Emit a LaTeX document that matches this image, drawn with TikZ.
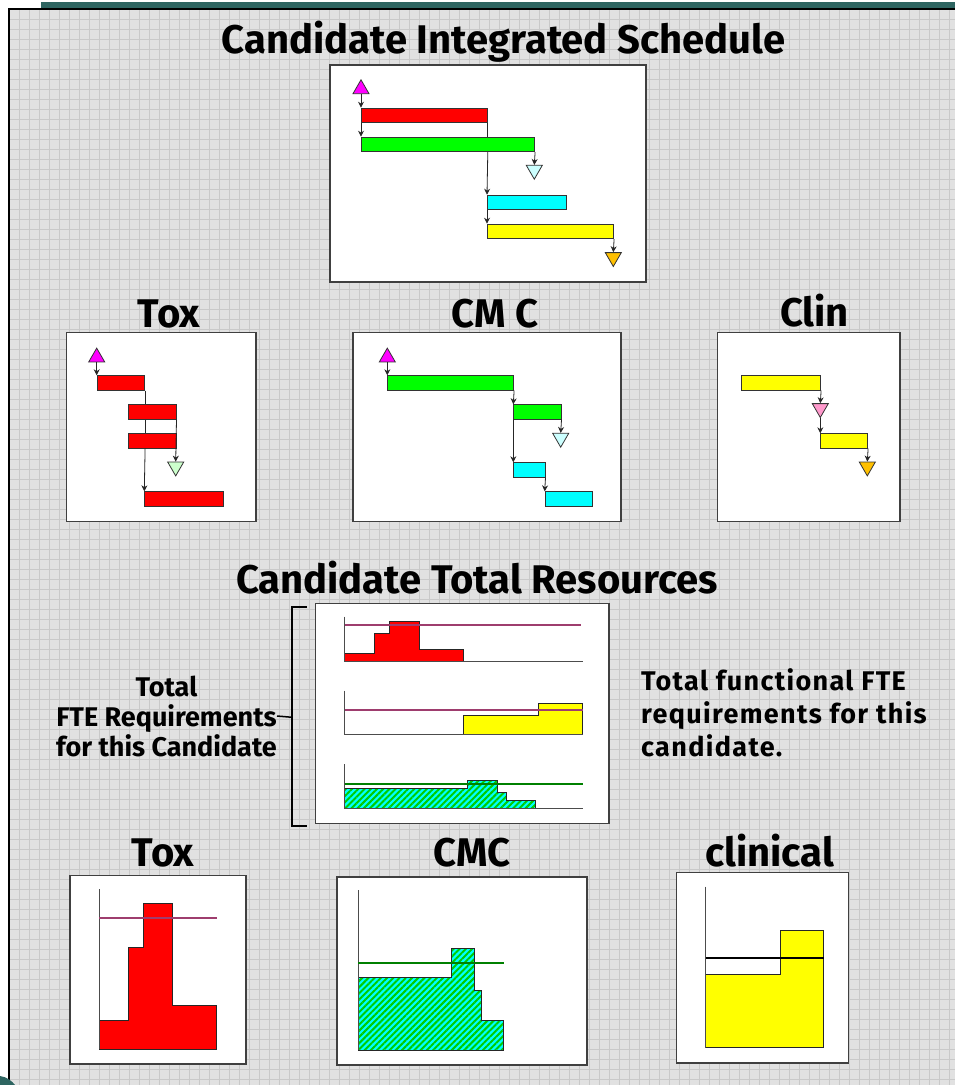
\documentclass[tikz,border=0pt]{standalone}
\usepackage{fontspec}
\setmainfont{Fira Sans}
\usetikzlibrary{shapes.geometric,arrows.meta,patterns.meta}
\definecolor{gridbg}{HTML}{E1E1E1}
\definecolor{gridln}{HTML}{C9C9C9}
\definecolor{teal}{HTML}{2E6561}
\definecolor{limitpurple}{HTML}{9E3D6E}
\definecolor{limitgreen}{HTML}{008000}
\definecolor{hatchgreen}{HTML}{00CC00}
\definecolor{barred}{HTML}{FF0000}
\definecolor{bargreen}{HTML}{00FF00}
\definecolor{barcyan}{HTML}{00FFFF}
\definecolor{baryellow}{HTML}{FFFF00}
\definecolor{startmile}{HTML}{FF00FF}
\definecolor{lightcyan}{HTML}{CCFFFF}
\definecolor{lightgreen}{HTML}{CCFFCC}
\definecolor{pinkmile}{HTML}{FF99CC}
\definecolor{orangemile}{HTML}{FFC000}
\begin{document}
\begin{tikzpicture}[x=1pt,y=-1pt,every node/.append style={inner sep=0},
    panel/.style={draw=black!75,fill=white,line width=1.5pt,anchor=north west},
    gbar/.style={draw=black!80,line width=0.8pt,minimum height=14.6pt,anchor=north west},
    tri/.style={draw=black!80,line width=0.8pt,regular polygon,regular polygon sides=3,minimum size=18.5pt,anchor=corner 1},
    tridown/.style={tri,shape border rotate=180},
    link/.style={draw=black!85,line width=0.8pt,-{Stealth[length=6pt,width=6pt]}},
    plain/.style={draw=black!85,line width=0.8pt},
    heading/.style={font=\fontsize{40}{44}\selectfont\bfseries,anchor=base},
    note/.style={font=\fontsize{27}{30}\selectfont\bfseries},
    axisline/.style={draw=black!70,line width=1pt},
    load/.style={draw=black!85,line width=1pt},
    hatch/.style={preaction={fill=barcyan},pattern={Lines[angle=45,distance=4.4pt,line width=2pt]},pattern color=hatchgreen},
    limit/.style={line width=2pt}]
  \useasboundingbox (0,0) rectangle (955,1085);
  \fill[white] (0,0) rectangle (955,1085);
  \fill[gridbg] (9,9) rectangle (955,1085);
  \foreach \i in {19,29,...,955} \draw[gridln,line width=0.8pt] (\i,9) -- (\i,1085);
  \foreach \j in {19,29,...,1085} \draw[gridln,line width=0.8pt] (9,\j) -- (955,\j);
  \fill[teal] (41,2) rectangle (955,8);
  \draw[line width=2pt] (9,1085) -- (9,9) -- (955,9);
  \fill[teal] (0,1076) .. controls (7,1077) and (12,1081) .. (15,1085) -- (0,1085) -- cycle;

  \node[heading] (SchedTitle) at (503.5,53) {Candidate Integrated Schedule};
  \node[panel,minimum width=316pt,minimum height=217pt] (SchedPanel) at (329,64) {};
  \node[tri,fill=startmile] (SchedStart) at (361,79) {};
  \node[gbar,fill=barred,minimum width=126pt] (SchedRed) at (361,107.7) {};
  \node[gbar,fill=bargreen,minimum width=173.3pt] (SchedGreen) at (361,136.7) {};
  \node[tridown,fill=lightcyan] (SchedMile) at (534.3,180) {};
  \node[gbar,fill=barcyan,minimum width=79.3pt] (SchedCyan) at (487,194.7) {};
  \node[gbar,fill=baryellow,minimum width=126.3pt] (SchedYellow) at (487,223.7) {};
  \node[tridown,fill=orangemile] (SchedEnd) at (613.3,267.3) {};
  \draw[link] (SchedStart.side 2) -- (SchedRed.north west);
  \draw[link] (SchedRed.south west) -- (SchedGreen.north west);
  \draw[plain] (SchedRed.south east) -- (SchedRed.south east |- SchedGreen.north);
  \draw[link] (SchedRed.south east |- SchedGreen.south) -- (SchedCyan.north west);
  \draw[link] (SchedGreen.south east) -- (SchedMile.side 2);
  \draw[link] (SchedCyan.south west) -- (SchedYellow.north west);
  \draw[link] (SchedYellow.south east) -- (SchedEnd.side 2);

  \node[heading] (ToxTitle) at (169,327) {Tox};
  \node[panel,minimum width=189.3pt,minimum height=189pt] (ToxPanel) at (65.7,331.7) {};
  \node[tri,fill=startmile] (ToxStart) at (96.7,347.3) {};
  \node[gbar,fill=barred,minimum width=47.6pt] (ToxBarA) at (96.7,375.3) {};
  \node[gbar,fill=barred,minimum width=47.4pt] (ToxBarB) at (128.3,404.3) {};
  \node[gbar,fill=barred,minimum width=47.4pt] (ToxBarC) at (128.3,433.3) {};
  \node[tridown,fill=lightgreen] (ToxMile) at (175.7,476.7) {};
  \node[gbar,fill=barred,minimum width=79pt] (ToxBarD) at (144.3,491.3) {};
  \draw[link] (ToxStart.side 2) -- (ToxBarA.north west);
  \draw[plain] (ToxBarA.south east) -- (ToxBarA.south east |- ToxBarB.north);
  \draw[plain] (ToxBarA.south east |- ToxBarB.south) -- (ToxBarA.south east |- ToxBarC.north);
  \draw[link] (ToxBarA.south east |- ToxBarC.south) -- (ToxBarD.north west);
  \draw[link] (ToxBarB.south east) -- (ToxMile.side 2);

  \node[heading] (CmcTitle) at (495,327) {CM C};
  \node[panel,minimum width=267.7pt,minimum height=189pt] (CmcPanel) at (352.3,331.7) {};
  \node[tri,fill=startmile] (CmcStart) at (387.3,347.3) {};
  \node[gbar,fill=bargreen,minimum width=126pt] (CmcBarA) at (387.3,375.3) {};
  \node[gbar,fill=bargreen,minimum width=47.4pt] (CmcBarB) at (513.3,404.3) {};
  \node[tridown,fill=lightcyan] (CmcMile) at (560.7,448) {};
  \node[gbar,fill=barcyan,minimum width=31.4pt] (CmcBarC) at (513.3,462.3) {};
  \node[gbar,fill=barcyan,minimum width=47.6pt] (CmcBarD) at (544.7,491.3) {};
  \draw[link] (CmcStart.side 2) -- (CmcBarA.north west);
  \draw[link] (CmcBarA.south east) -- (CmcBarB.north west);
  \draw[link] (CmcBarB.south east) -- (CmcMile.side 2);
  \draw[link] (CmcBarB.south west) -- (CmcBarC.north west);
  \draw[link] (CmcBarC.south east) -- (CmcBarD.north west);

  \node[heading] (ClinTitle) at (814.5,326) {Clin};
  \node[panel,minimum width=182.6pt,minimum height=189pt] (ClinPanel) at (716.7,331.7) {};
  \node[gbar,fill=baryellow,minimum width=79.3pt] (ClinBarA) at (741,375.3) {};
  \node[tridown,fill=pinkmile] (ClinMile) at (820.3,418.3) {};
  \node[gbar,fill=baryellow,minimum width=47pt] (ClinBarB) at (820.3,433.3) {};
  \node[tridown,fill=orangemile] (ClinEnd) at (867.3,476.7) {};
  \draw[link] (ClinBarA.south east) -- (ClinMile.side 2);
  \draw[link] (ClinMile.corner 1) -- (ClinBarB.north west);
  \draw[link] (ClinBarB.south east) -- (ClinEnd.side 2);

  \node[heading] (TotalTitle) at (477,593) {Candidate Total Resources};
  \node[panel,minimum width=293.6pt,minimum height=220pt] (TotalPanel) at (314.7,602.7) {};
  \draw[load,fill=barred] (344.7,661.3) -- (344.7,653.3) -- (374.3,653.3) -- (374.3,633.3) -- (389.3,633.3) -- (389.3,621.3) -- (419.3,621.3) -- (419.3,649.3) -- (463.7,649.3) -- (463.7,661.3) -- cycle;
  \draw[axisline] (344.7,616.7) -- (344.7,661.3) -- (582.7,661.3);
  \draw[limit,limitpurple] (344.7,625) -- (581.3,625);
  \draw[load,fill=baryellow] (463.7,734.7) -- (463.7,715.3) -- (538.7,715.3) -- (538.7,703) -- (582.7,703) -- (582.7,734.7) -- cycle;
  \draw[axisline] (344.7,690.7) -- (344.7,734.7) -- (582.7,734.7);
  \draw[limit,limitpurple] (344.7,710.3) -- (582.7,710.3);
  \draw[load,hatch] (344.7,808.3) -- (344.7,788.7) -- (467.7,788.7) -- (467.7,780.3) -- (497.3,780.3) -- (497.3,792) -- (506.3,792) -- (506.3,800.3) -- (535.7,800.3) -- (535.7,808.3) -- cycle;
  \draw[axisline] (344.7,764) -- (344.7,808.3) -- (582.7,808.3);
  \draw[limit,limitgreen] (344.7,783.7) -- (582.7,783.7);

  \draw[line width=2pt] (306.7,607.3) -- (292.3,607.3) -- (292.3,826) -- (306.7,826);
  \coordinate (BracketMid) at (292.3,717.3);
  \node[note,align=center] (FteNote) at (166.5,716) {Total\\FTE Requirements\\for this Candidate};
  \draw[line width=1.5pt] (FteNote.east) -- (BracketMid);
  \node[note,align=left,anchor=west,font=\fontsize{27}{33}\selectfont\bfseries\addfontfeatures{LetterSpace=5}] (FunctionalNote) at (641,713) {Total functional FTE\\requirements for this\\candidate.};

  \node[heading] (ToxLoadTitle) at (163,866) {Tox};
  \node[panel,minimum width=176pt,minimum height=188.6pt] (ToxLoadPanel) at (69.3,874.7) {};
  \draw[load,fill=barred] (99,1049.3) -- (99,1020.3) -- (128.3,1020.3) -- (128.3,947.3) -- (143,947.3) -- (143,903.7) -- (172.3,903.7) -- (172.3,1005.7) -- (216.3,1005.7) -- (216.3,1049.3) -- cycle;
  \draw[axisline] (99,889.3) -- (99,1049.3);
  \draw[limit,limitpurple] (99,918.3) -- (217,918.3);

  \node[heading] (CmcLoadTitle) at (472,866) {CMC};
  \node[panel,minimum width=250pt,minimum height=188pt] (CmcLoadPanel) at (336,876) {};
  \draw[load,hatch] (358,1050) -- (358,977.3) -- (451.7,977.3) -- (451.7,948.3) -- (474.3,948.3) -- (474.3,990.3) -- (481,990.3) -- (481,1020.7) -- (503.7,1020.7) -- (503.7,1050) -- cycle;
  \draw[axisline] (358,890) -- (358,1050);
  \draw[limit,limitgreen] (358,962.7) -- (504.3,962.7);

  \node[heading] (ClinLoadTitle) at (769.5,866) {clinical};
  \node[panel,minimum width=172pt,minimum height=190.6pt] (ClinLoadPanel) at (675.7,871.7) {};
  \draw[load,fill=baryellow] (705.7,1047.7) -- (705.7,974) -- (780.3,974) -- (780.3,930.7) -- (823.7,930.7) -- (823.7,1047.7) -- cycle;
  \draw[axisline] (705.7,886.7) -- (705.7,1047.7);
  \draw[limit,black] (705.7,958) -- (823.7,958);
\end{tikzpicture}
\end{document}
